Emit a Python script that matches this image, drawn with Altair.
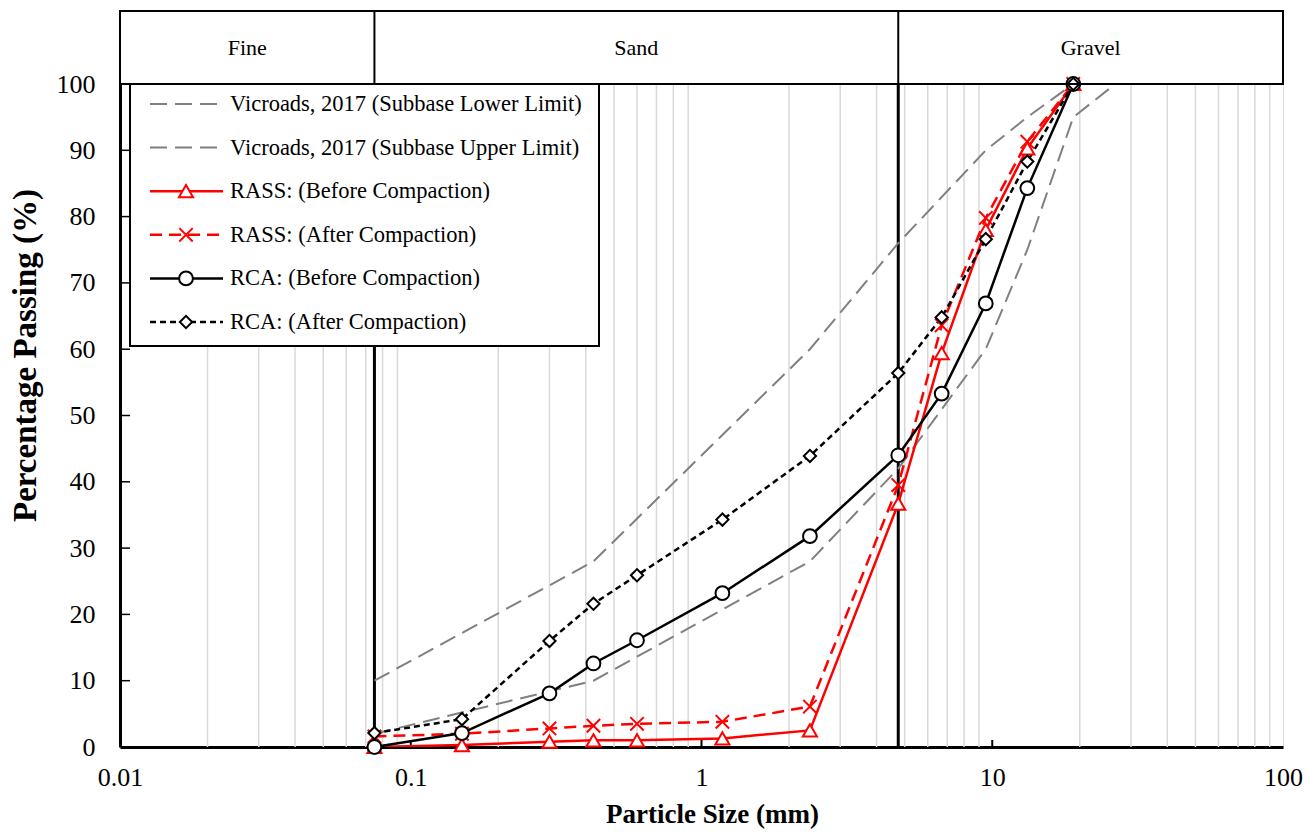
import altair as alt
import pandas as pd
import math

# ---------------- data ----------------
sieve = [0.075, 0.15, 0.3, 0.425, 0.6, 1.18, 2.36, 4.75, 6.7, 9.5, 13.2, 19]
rass_before = [0.0, 0.3, 0.8, 1.0, 1.0, 1.3, 2.5, 36.7, 59.4, 78.0, 90.3, 100]
rass_after = [1.6, 2.0, 2.8, 3.2, 3.5, 3.8, 6.1, 39.5, 63.6, 79.8, 91.3, 100]
rca_before = [0.0, 2.1, 8.1, 12.6, 16.1, 23.2, 31.8, 44.0, 53.3, 66.9, 84.3, 100]
rca_after = [2.1, 4.2, 16.0, 21.6, 25.9, 34.3, 43.9, 56.4, 64.8, 76.6, 88.3, 100]

limit_sieve = [0.075, 0.425, 2.36, 4.75, 9.5, 13.2, 19, 26.5]
limit_lower = [2, 10, 28, 42, 60, 75, 95, 100]
limit_upper = [10, 28, 60, 76, 90, 95, 100, 100]

band_edges = [0.01, 0.075, 4.75, 100]
band_names = ["Fine", "Sand", "Gravel"]

x_ticks = [0.01, 0.1, 1, 10, 100]
y_ticks = list(range(0, 101, 10))

W, H = 1163, 663
FONT = "Liberation Serif"

X = alt.X("x:Q", scale=alt.Scale(type="log", domain=[0.01, 100]),
          axis=alt.Axis(values=x_ticks, format="~g", ticks=False, grid=False,
                        labelFlush=False, labelOverlap=False,
                        domainWidth=3, domainColor="black", labelFont=FONT,
                        labelFontSize=26, labelColor="black", labelPadding=17,
                        title="Particle Size (mm)", titleFont=FONT,
                        titleFontSize=27, titleFontWeight="bold",
                        titleColor="black", titleX=592, titleY=75,
                        titleBaseline="alphabetic", titleAlign="center"))
Y = alt.Y("y:Q", scale=alt.Scale(domain=[0, 100]),
          axis=alt.Axis(values=y_ticks, ticks=False, grid=False,
                        labelFlush=False, labelOverlap=False,
                        domainWidth=3, domainColor="black", labelFont=FONT,
                        labelFontSize=26, labelColor="black", labelPadding=25,
                        title="Percentage Passing (%)", titleFont=FONT,
                        titleFontSize=33, titleFontWeight="bold",
                        titleColor="black", titleX=-95, titleY=271,
                        titleAngle=270, titleBaseline="middle", titleAlign="center"))

layers = []

# minor gridlines
minor = [m * 10 ** e for e in range(-2, 2) for m in range(2, 10)]
grid_df = pd.DataFrame({"x": minor})
layers.append(alt.Chart(grid_df).mark_rule(color="#d9d9d9", strokeWidth=1.5).encode(
    x=X, y=alt.value(0), y2=alt.value(H)))

# inward ticks
xt_df = pd.DataFrame({"x": x_ticks[1:-1]})
layers.append(alt.Chart(xt_df).mark_rule(color="black", strokeWidth=2).encode(
    x=X, y=alt.value(H), y2=alt.value(H - 7)))
yt_df = pd.DataFrame({"y": y_ticks[1:-1]})
layers.append(alt.Chart(yt_df).mark_rule(color="black", strokeWidth=1.5).encode(
    y=Y, x=alt.value(0), x2=alt.value(10)))

# boundary lines
bd_df = pd.DataFrame({"x": band_edges[1:-1]})
layers.append(alt.Chart(bd_df).mark_rule(color="black", strokeWidth=3).encode(
    x=X, y=alt.value(0), y2=alt.value(H)))

# header band
hdr_df = pd.DataFrame({"x": [band_edges[0]], "x2": [band_edges[-1]]})
layers.append(alt.Chart(hdr_df).mark_rect(fill="white", stroke="black", strokeWidth=2).encode(
    x=X, x2="x2:Q", y=alt.value(-73), y2=alt.value(0)))
layers.append(alt.Chart(bd_df).mark_rule(color="black", strokeWidth=2).encode(
    x=X, y=alt.value(-73), y2=alt.value(0)))
centers = [math.sqrt(band_edges[i] * band_edges[i + 1]) for i in range(3)]
lab_df = pd.DataFrame({"x": centers, "name": band_names})
layers.append(alt.Chart(lab_df).mark_text(font=FONT, fontSize=22, color="black",
                                           baseline="middle", align="center").encode(
    x=X, y=alt.value(-36), text="name:N"))

# series definitions
series = [
    ("Vicroads, 2017 (Subbase Lower Limit)", limit_sieve, limit_lower, "#808080", [17, 8], None, 2),
    ("Vicroads, 2017 (Subbase Upper Limit)", limit_sieve, limit_upper, "#808080", [17, 8], None, 2),
    ("RASS: (Before Compaction)", sieve, rass_before, "#ff0000", None, "triangle-up", 2.5),
    ("RASS: (After Compaction)", sieve, rass_after, "#ff0000", [12, 7], "M-1,-1L1,1M-1,1L1,-1", 2.5),
    ("RCA: (Before Compaction)", sieve, rca_before, "black", None, "circle", 2.5),
    ("RCA: (After Compaction)", sieve, rca_after, "black", [6, 4], "diamond", 2.5),
]
msize = {"triangle-up": 200, "M-1,-1L1,1M-1,1L1,-1": 180, "circle": 190, "diamond": 150}

for name, xs, ys, col, dash, shape, sw in series:
    df = pd.DataFrame({"x": xs, "y": ys})
    kw = dict(color=col, strokeWidth=sw)
    if dash:
        kw["strokeDash"] = dash
    layers.append(alt.Chart(df).mark_line(clip=True, **kw).encode(x=X, y=Y))
for name, xs, ys, col, dash, shape, sw in series:
    if shape:
        df = pd.DataFrame({"x": xs, "y": ys})
        layers.append(alt.Chart(df).mark_point(shape=shape, size=msize[shape], fill="white",
                                               fillOpacity=1, stroke=col, strokeWidth=2,
                                               opacity=1).encode(x=X, y=Y))

# top frame line redrawn over data
layers.append(alt.Chart(hdr_df).mark_rule(color="black", strokeWidth=2).encode(
    x=X, x2="x2:Q", y=alt.value(0)))

# legend (manual)
leg_box = pd.DataFrame({"a": [0]})
layers.append(alt.Chart(leg_box).mark_rect(fill="white", stroke="black", strokeWidth=2).encode(
    x=alt.value(10), x2=alt.value(479), y=alt.value(0), y2=alt.value(262)))
for i, (name, xs, ys, col, dash, shape, sw) in enumerate(series):
    ry = 20 + i * 43.6
    d = pd.DataFrame({"label": [name]})
    kw = dict(color=col, strokeWidth=sw)
    if dash:
        kw["strokeDash"] = dash
    layers.append(alt.Chart(d).mark_rule(**kw).encode(
        x=alt.value(30), x2=alt.value(103), y=alt.value(ry)))
    if shape:
        layers.append(alt.Chart(d).mark_point(shape=shape, size=msize[shape], fill="white",
                                              fillOpacity=1, stroke=col, strokeWidth=2,
                                              opacity=1).encode(
            x=alt.value(66), y=alt.value(ry)))
    layers.append(alt.Chart(d).mark_text(font=FONT, fontSize=22.5, color="black",
                                         align="left", baseline="middle").encode(
        x=alt.value(110), y=alt.value(ry), text="label:N"))

chart = alt.layer(*layers).properties(
    width=W, height=H,
    padding={"left": 112, "top": 76, "right": 25, "bottom": 83},
    autosize=alt.AutoSizeParams(type="none"),
).configure_view(stroke="black", strokeWidth=2).configure(background="white")

chart.save("out.html", embed_options={"renderer": "svg", "actions": False})
